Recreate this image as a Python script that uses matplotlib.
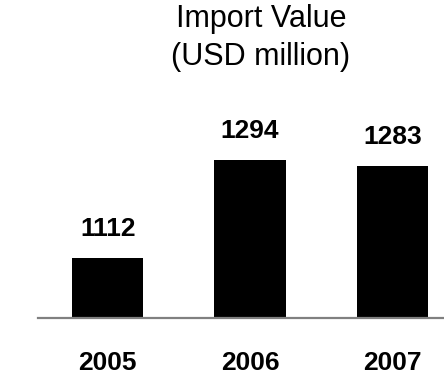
import matplotlib
matplotlib.use("Agg")
import matplotlib.pyplot as plt

years = ["2005", "2006", "2007"]
import_value = [1112, 1294, 1283]

W, H, DPI = 444, 376, 100
fig = plt.figure(figsize=(W / DPI, H / DPI), dpi=DPI)

# axes: baseline sits at ~318 px from top, value axis starts at 1000
ax = fig.add_axes([38 / W, (H - 317.7) / H, 1 - 38 / W, 217.7 / H])
x = range(len(years))
ax.bar(x, import_value, width=0.5, color="black")
ax.set_ylim(1000, 1406)
ax.set_xlim(-0.49, 2.363)

for spine in ["top", "right", "left"]:
    ax.spines[spine].set_visible(False)
ax.spines["bottom"].set_color("#808080")
ax.spines["bottom"].set_linewidth(1.6)
ax.set_yticks([])
ax.set_xticks(list(x))
ax.set_xticklabels(years, fontsize=19, fontweight="bold", family="Liberation Sans")
ax.tick_params(axis="x", length=0, pad=24)

for i, v in enumerate(import_value):
    ax.annotate(str(v), (i, v), xytext=(0, 12), textcoords="offset points",
                ha="center", va="bottom", fontsize=19, fontweight="bold",
                family="Liberation Sans")

fig.text(261 / W, 1 - 19 / H, "Import Value", ha="center", va="center",
         fontsize=22, family="Liberation Sans")
fig.text(261 / W, 1 - 57 / H, "(USD million)", ha="center", va="center",
         fontsize=22, family="Liberation Sans")

fig.savefig("out.png", dpi=DPI)
